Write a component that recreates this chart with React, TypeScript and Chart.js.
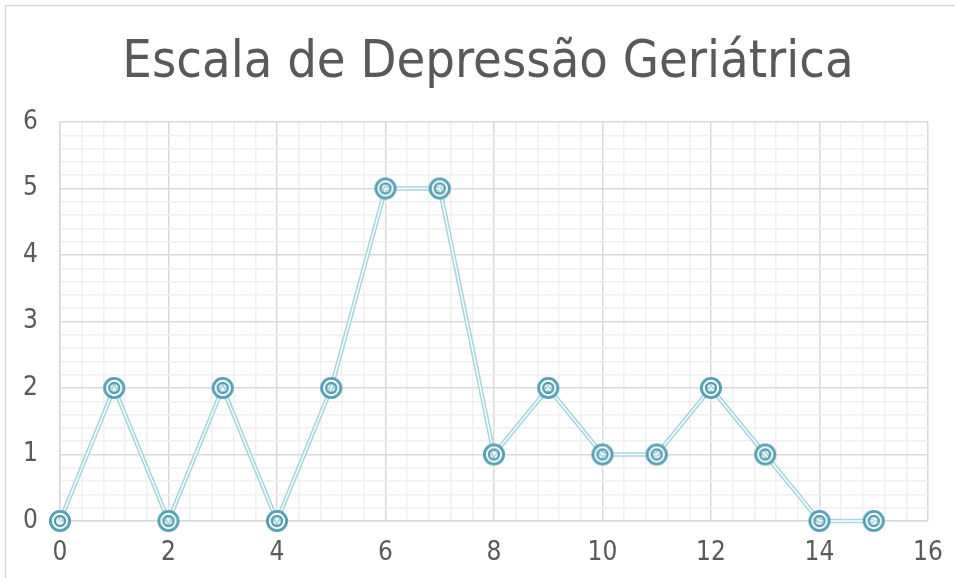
import React, { useEffect, useRef } from "react";
import { Chart, registerables } from "chart.js";

Chart.register(...registerables);

const TITLE = "Escala de Depressão Geriátrica";
const xValues = [0, 1, 2, 3, 4, 5, 6, 7, 8, 9, 10, 11, 12, 13, 14, 15];
const yValues = [0, 2, 0, 2, 0, 2, 5, 5, 1, 2, 1, 1, 2, 1, 0, 0];
const X_MIN = 0, X_MAX = 16, X_MAJOR = 2, X_MINOR = 0.4;
const Y_MIN = 0, Y_MAX = 6, Y_MAJOR = 1, Y_MINOR = 0.2;

const FONT = "'DejaVu Sans Condensed', 'DejaVu Sans', sans-serif";
const TEXT = "#595959";
const MAJOR_GRID = "#d9d9d9";
const MINOR_GRID = "#f0f0f0";

function isMajor(v: number, step: number) {
  const r = v / step;
  return Math.abs(r - Math.round(r)) < 1e-6;
}

function makeMarker() {
  const c = document.createElement("canvas");
  c.width = 28;
  c.height = 28;
  const g = c.getContext("2d")!;
  const cx = 14, cy = 14;
  g.fillStyle = "#ffffff";
  g.beginPath();
  g.arc(cx, cy, 10, 0, Math.PI * 2);
  g.arc(cx, cy, 5, 0, Math.PI * 2, true);
  g.fill();
  g.strokeStyle = "#55a0b3";
  g.lineWidth = 2.9;
  g.beginPath(); g.arc(cx, cy, 9.6, 0, Math.PI * 2); g.stroke();
  g.lineWidth = 2.4;
  g.beginPath(); g.arc(cx, cy, 5, 0, Math.PI * 2); g.stroke();
  return c;
}

export default function App() {
  const ref = useRef<HTMLCanvasElement>(null);
  useEffect(() => {
    const points = xValues.map((x, i) => ({ x, y: yValues[i] }));
    const marker = makeMarker();
    const frame = {
      id: "frame",
      beforeDraw(chart: any) {
        const ctx = chart.ctx;
        ctx.save();
        ctx.fillStyle = "#fff";
        ctx.fillRect(0, 0, chart.width, chart.height);
        ctx.strokeStyle = "#d9d9d9";
        ctx.lineWidth = 1.5;
        ctx.beginPath();
        ctx.moveTo(5.5, chart.height);
        ctx.lineTo(5.5, 5.5);
        ctx.lineTo(chart.width, 5.5);
        ctx.stroke();
        ctx.fillStyle = TEXT;
        ctx.font = `52px ${FONT}`;
        ctx.textAlign = "center";
        ctx.textBaseline = "alphabetic";
        ctx.fillText(TITLE, 488, 77);
        ctx.restore();
      },
    };
    const chart = new Chart(ref.current!, {
      type: "scatter",
      data: {
        datasets: [
          {
            data: points,
            showLine: true,
            borderColor: "#a6d5e1",
            borderWidth: 4.5,
            pointRadius: 0,
            order: 3,
            clip: false as any,
          },
          {
            data: points,
            showLine: true,
            borderColor: "#ffffff",
            borderWidth: 1.4,
            pointRadius: 0,
            order: 2,
            clip: false as any,
          },
          {
            data: points,
            showLine: false,
            pointStyle: marker as any,
            pointRadius: 10,
            order: 1,
            clip: false as any,
          },
        ],
      },
      options: {
        animation: false,
        responsive: false,
        layout: { padding: { left: 5, top: 122, right: 27, bottom: 4 } },
        plugins: {
          legend: { display: false },
          tooltip: { enabled: false },
          title: { display: false },
        },
        scales: {
          x: {
            type: "linear",
            min: X_MIN,
            max: X_MAX,
            ticks: {
              stepSize: X_MINOR,
              autoSkip: false,
              maxRotation: 0,
              color: TEXT,
              font: { family: FONT, size: 26 },
              padding: 17,
              callback: (v: any) => (isMajor(Number(v), X_MAJOR) ? String(Math.round(Number(v))) : ""),
            },
            grid: {
              color: (c: any) => (isMajor(c.tick.value, X_MAJOR) ? MAJOR_GRID : MINOR_GRID),
              lineWidth: 1.5,
              drawTicks: false,
            },
            border: { color: MAJOR_GRID, width: 1.5 },
            afterFit: (s: any) => { s.height = 53; s.paddingLeft = 0; s.paddingRight = 0; },
          },
          y: {
            type: "linear",
            min: Y_MIN,
            max: Y_MAX,
            ticks: {
              stepSize: Y_MINOR,
              autoSkip: false,
              color: TEXT,
              font: { family: FONT, size: 26 },
              padding: 22,
              callback: (v: any) => (isMajor(Number(v), Y_MAJOR) ? String(Math.round(Number(v))) : ""),
            },
            grid: {
              color: (c: any) => (isMajor(c.tick.value, Y_MAJOR) ? MAJOR_GRID : MINOR_GRID),
              lineWidth: 1.5,
              drawTicks: false,
            },
            border: { color: MAJOR_GRID, width: 1.5 },
            afterFit: (s: any) => { s.width = 55; s.paddingTop = 0; s.paddingBottom = 0; },
          },
        },
      },
      plugins: [frame],
    });
    return () => chart.destroy();
  }, []);
  return (
    <div style={{ position: "fixed", left: 0, top: 0, width: 955, height: 578, background: "#fff" }}>
      <canvas ref={ref} width={955} height={578} />
    </div>
  );
}
